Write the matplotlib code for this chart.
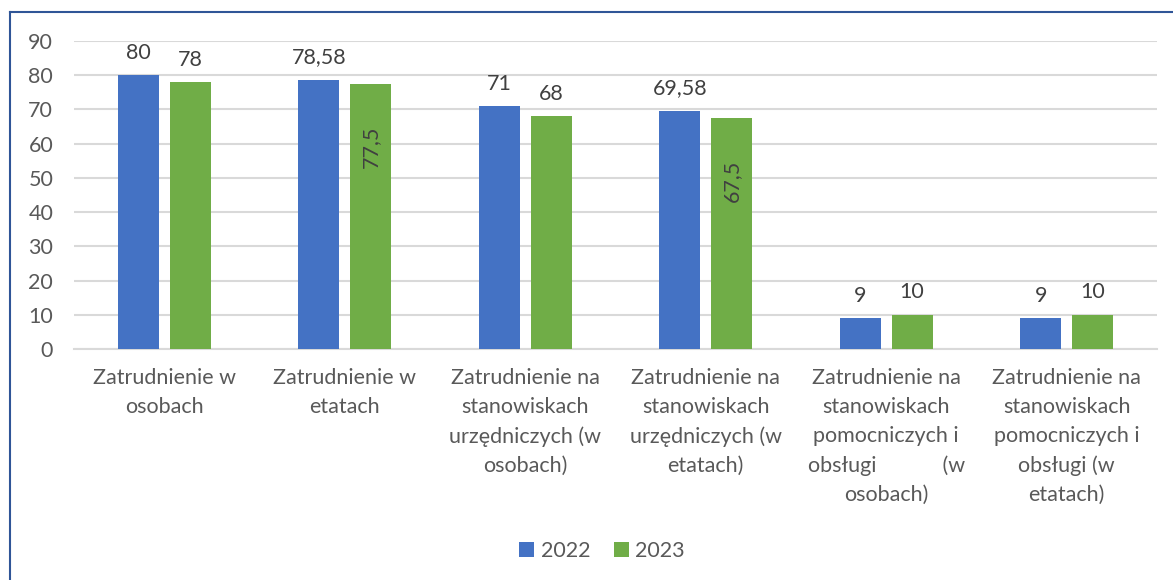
import matplotlib
matplotlib.use("Agg")
import matplotlib.pyplot as plt
import numpy as np
from matplotlib.lines import Line2D
from matplotlib.patches import Patch

categories = [
    "Zatrudnienie w\nosobach",
    "Zatrudnienie w\netatach",
    "Zatrudnienie na\nstanowiskach\nurzędniczych (w\nosobach)",
    "Zatrudnienie na\nstanowiskach\nurzędniczych (w\netatach)",
    "Zatrudnienie na\nstanowiskach\npomocniczych i\nobsługi            (w\nosobach)",
    "Zatrudnienie na\nstanowiskach\npomocniczych i\nobsługi (w\netatach)",
]
series_names = ["2022", "2023"]
values_2022 = [80, 78.58, 71, 69.58, 9, 9]
values_2023 = [78, 77.5, 68, 67.5, 10, 10]
# labels drawn rotated inside the bar (index per series)
rotated_2023 = [1, 3]
yticks = [0, 10, 20, 30, 40, 50, 60, 70, 80, 90]

BLUE = "#4472C4"
GREEN = "#70AD47"
TEXT = "#595959"
GRID = "#D9D9D9"
FONT = ["Lato", "DejaVu Sans"]
FS = 15.5

plt.rcParams["font.family"] = FONT

W, H = 1173, 580
fig = plt.figure(figsize=(W / 100, H / 100), dpi=100)
ax = fig.add_axes([74 / W, (H - 349) / H, (1157 - 74) / W, (349 - 41) / H])


def fmt(v):
    s = f"{v:g}"
    return s.replace(".", ",")


x = np.arange(len(categories))
width = 0.227
offset = 0.143
ax.bar(x - offset, values_2022, width, color=BLUE, zorder=3)
ax.bar(x + offset, values_2023, width, color=GREEN, zorder=3)

for i, v in enumerate(values_2022):
    ax.annotate(fmt(v), (x[i] - offset, v), xytext=(0, 9), textcoords="offset points",
                ha="center", va="bottom", fontsize=FS, color="#404040")
for i, v in enumerate(values_2023):
    if i in rotated_2023:
        ax.annotate(fmt(v), (x[i] + offset, v), xytext=(0, -30), textcoords="offset points",
                    ha="center", va="top", rotation=90, fontsize=FS, color="#404040")
    else:
        ax.annotate(fmt(v), (x[i] + offset, v), xytext=(0, 9), textcoords="offset points",
                    ha="center", va="bottom", fontsize=FS, color="#404040")

ax.set_xlim(-0.5, len(categories) - 0.5)
ax.set_ylim(0, 90)
ax.set_yticks(yticks)
ax.set_yticklabels([str(t) for t in yticks])
ax.set_xticks(x)
ax.set_xticklabels(categories, linespacing=1.55)
ax.tick_params(axis="y", length=0, pad=15, labelsize=FS, labelcolor=TEXT)
ax.tick_params(axis="x", length=0, pad=14, labelsize=FS, labelcolor=TEXT)
ax.grid(axis="y", color=GRID, linewidth=1.5, zorder=0)
for s in ["top", "right", "left"]:
    ax.spines[s].set_visible(False)
ax.spines["bottom"].set_color(GRID)
ax.spines["bottom"].set_linewidth(1.5)

handles = [Patch(facecolor=BLUE, label=series_names[0]),
           Patch(facecolor=GREEN, label=series_names[1])]
leg = fig.legend(handles=handles, loc="center", bbox_to_anchor=(602 / W, (H - 551) / H),
                 ncol=2, frameon=False, fontsize=FS, handlelength=0.7, handleheight=0.7,
                 handletextpad=0.3, columnspacing=1.1)
for t in leg.get_texts():
    t.set_color(TEXT)

# outer frame (left and top edges)
fig.add_artist(Line2D([10 / W, 10 / W], [0, (H - 12) / H], color="#2F5597", linewidth=1.5,
                      transform=fig.transFigure))
fig.add_artist(Line2D([10 / W, 1], [(H - 12) / H, (H - 12) / H], color="#2F5597", linewidth=1.5,
                      transform=fig.transFigure))

fig.savefig("out.png", dpi=100, facecolor="white")
